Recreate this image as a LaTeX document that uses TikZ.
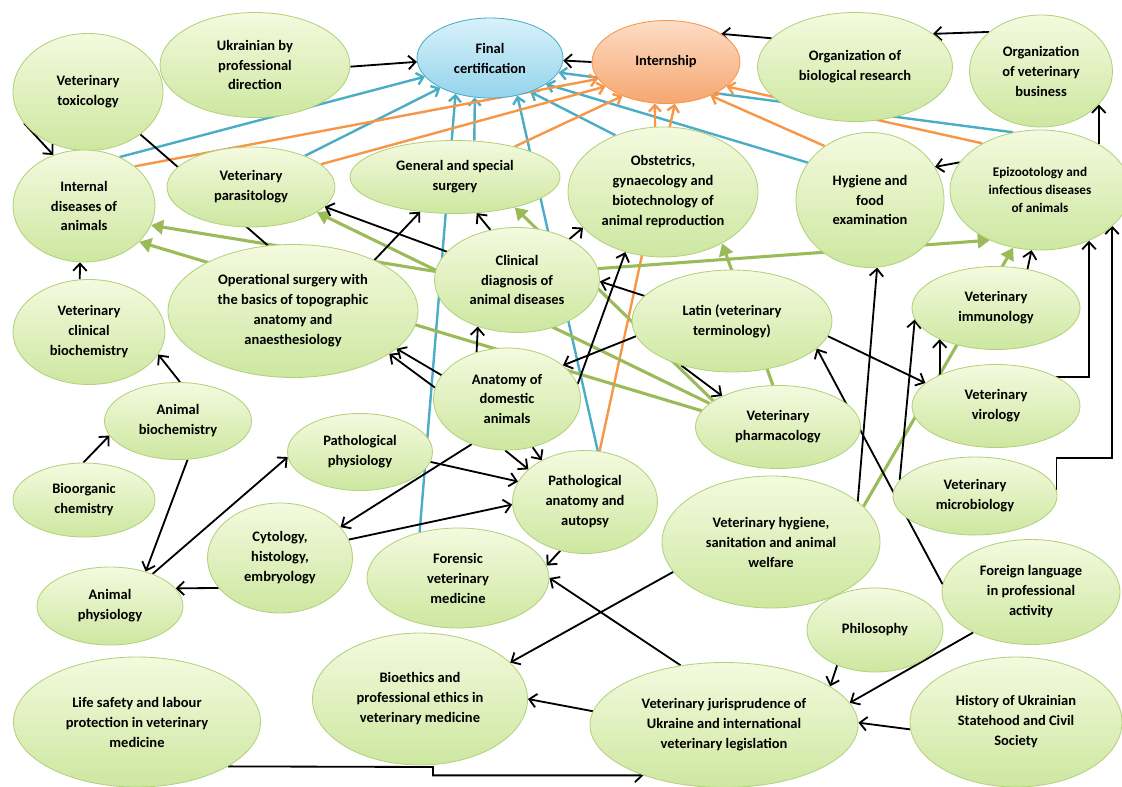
\documentclass[tikz,border=0pt]{standalone}
\usepackage{fontspec}
\setmainfont{Carlito}
\usetikzlibrary{shapes.geometric,arrows.meta,backgrounds}

\definecolor{leafline}{HTML}{9BBB59}
\definecolor{leafedge}{HTML}{B3D17C}
\definecolor{leaftop}{HTML}{F4FADF}
\definecolor{leafbot}{HTML}{CDE7A0}
\definecolor{skyline}{HTML}{4BACC6}
\definecolor{skytop}{HTML}{D9F1FA}
\definecolor{skybot}{HTML}{94D4EC}
\definecolor{peachline}{HTML}{F79646}
\definecolor{peachtop}{HTML}{FDDDC6}
\definecolor{peachbot}{HTML}{F5A670}

\begin{document}
\begin{tikzpicture}[x=0.025cm,y=-0.025cm,
    sz/.style 2 args={minimum width=#1*0.025cm, minimum height=#2*0.025cm},
    course/.style={ellipse, draw=leafedge, line width=0.6pt, top color=leaftop,
      bottom color=leafbot, align=center, inner sep=0pt,
      font=\fontsize{10.3}{14.2}\selectfont\bfseries},
    finalbox/.style={course, draw=skyline, top color=skytop, bottom color=skybot},
    internbox/.style={course, draw=peachline, top color=peachtop, bottom color=peachbot},
    blk/.style={draw=black, line width=1.3pt, -{Straight Barb[length=1.8mm,width=3.4mm]}},
    blkline/.style={draw=black, line width=1.3pt},
    blueln/.style={draw=skyline, line width=1.7pt, -{Straight Barb[length=1.6mm,width=3mm]}},
    orangeln/.style={draw=peachline, line width=1.7pt, -{Straight Barb[length=1.6mm,width=3mm]}},
    greenln/.style={draw=leafline, line width=2.2pt, -{Triangle[length=3mm,width=3.6mm]}}]

  \useasboundingbox (0,0) rectangle (1122,787);

  % top row
  \node[course, sz={150}{117}] (tox) at (88,92) {Veterinary\\toxicology};
  \node[course, sz={190}{105}] (ukr) at (255,65) {Ukrainian by\\professional\\direction};
  \node[finalbox, sz={146}{80}] (final) at (490,58) {Final\\certification};
  \node[internbox, sz={148}{83}] (intern) at (666,62) {Internship};
  \node[course, sz={195}{109}] (orgbio) at (855,67) {Organization of\\biological research};
  \node[course, sz={143}{112}] (orgvet) at (1041,71) {Organization\\of veterinary\\business};

  % second row
  \node[course, sz={142}{112}] (internal) at (84,206) {Internal\\diseases of\\animals};
  \node[course, sz={168}{80}] (parasit) at (251,187) {Veterinary\\parasitology};
  \node[course, sz={210}{73}] (gensurg) at (455,177) {General and special\\surgery};
  \node[course, sz={190}{130}] (obst) at (663,192) {Obstetrics,\\gynaecology and\\biotechnology of\\animal reproduction};
  \node[course, sz={148}{135}] (hygfood) at (870,200) {Hygiene and\\food\\examination};
  \node[course, sz={180}{120}, font=\fontsize{9.4}{12.8}\selectfont\bfseries] (epiz) at (1040,190)
    {Epizootology and\\infectious diseases\\of animals};

  % middle
  \node[course, sz={152}{105}] (clinbio) at (89,332) {Veterinary\\clinical\\biochemistry};
  \node[course, sz={250}{133}] (opsurg) at (293,311) {Operational surgery with\\the basics of topographic\\anatomy and\\anaesthesiology};
  \node[course, sz={165}{105}] (clindiag) at (517,280) {Clinical\\diagnosis of\\animal diseases};
  \node[course, sz={200}{102}] (latin) at (732,321) {Latin (veterinary\\terminology)};
  \node[course, sz={168}{83}] (immun) at (996,308) {Veterinary\\immunology};
  \node[course, sz={147}{102}] (anatomy) at (507,399) {Anatomy of\\domestic\\animals};
  \node[course, sz={165}{83}] (pharm) at (778,427) {Veterinary\\pharmacology};
  \node[course, sz={168}{83}] (virol) at (996,406) {Veterinary\\virology};
  \node[course, sz={147}{77}] (anbio) at (178,421) {Animal\\biochemistry};
  \node[course, sz={145}{77}] (patphys) at (360,452) {Pathological\\physiology};
  \node[course, sz={142}{74}] (bioorg) at (84,500) {Bioorganic\\chemistry};
  \node[course, sz={145}{103}] (patanat) at (585,502) {Pathological\\anatomy and\\autopsy};
  \node[course, sz={218}{132}] (vethyg) at (771,542) {Veterinary hygiene,\\sanitation and animal\\welfare};
  \node[course, sz={164}{78}] (microbio) at (975,496) {Veterinary\\microbiology};
  \node[course, sz={145}{110}] (cytol) at (280,558) {Cytology,\\histology,\\embryology};
  \node[course, sz={182}{100}] (forensic) at (458,578) {Forensic\\veterinary\\medicine};
  \node[course, sz={178}{105}] (foreign) at (1031,592) {Foreign language\\in professional\\activity};
  \node[course, sz={146}{78}] (anphys) at (110,606) {Animal\\physiology};
  \node[course, sz={136}{84}] (philos) at (875,630) {Philosophy};

  % bottom row
  \node[course, sz={215}{132}] (bioeth) at (420,699) {Bioethics and\\professional ethics in\\veterinary medicine};
  \node[course, sz={247}{130}] (lifesafe) at (137,722) {Life safety and labour\\protection in veterinary\\medicine};
  \node[course, sz={268}{125}] (jurispr) at (724,725) {Veterinary jurisprudence of\\Ukraine and international\\veterinary legislation};
  \node[course, sz={212}{130}] (history) at (1016,722) {History of Ukrainian\\Statehood and Civil\\Society};

  \coordinate (lsbend) at (433,767);
  \coordinate (mcbend) at (1112,458);

  \begin{scope}[on background layer]
    % to final certification
    \draw[blueln] (internal.54) -- (final.196);
    \draw[blueln] (parasit.30) -- (final.211);
    \draw[blueln] (forensic.130) -- (final.226);
    \draw[blueln] (gensurg.62) -- (final.249);
    \draw[blueln] (patanat.76) -- (final.-54);
    \draw[blueln] (obst.130) -- (final.-40);
    \draw[blueln] (hygfood.149) -- (final.-25);
    \draw[blueln] (epiz.115) -- (final.-12);

    % to internship
    \draw[orangeln] (internal.38) -- (intern.194);
    \draw[orangeln] (parasit.18) -- (intern.202);
    \draw[orangeln] (gensurg.27) -- (intern.218);
    \draw[orangeln] (obst.97) -- (intern.255);
    \draw[orangeln] (patanat.74) -- (intern.282);
    \draw[orangeln] (hygfood.130) -- (intern.-37);
    \draw[orangeln] (epiz.141) -- (intern.-22);

    % green links
    \draw[greenln] (clindiag.174) -- (internal.-16);
    \draw[greenln] (pharm.168) -- (internal.-33);
    \draw[greenln] (pharm.161) -- (parasit.-21.5);
    \draw[greenln] (pharm.158) -- (gensurg.-27.6);
    \draw[greenln] (pharm.97) -- (obst.-41.3);
    \draw[greenln] (clindiag.8) -- (epiz.225);
    \draw[greenln] (vethyg.21) -- (epiz.245.6);

    % black links
    \draw[blk] (ukr.-1) -- (final.183);
    \draw[blk] (intern.180) -- (final.-2);
    \draw[blk] (orgbio.161) -- (intern.27);
    \draw[blk] (orgvet.143) -- (orgbio.23);
    \draw[blk] (epiz.38.4) -- (epiz.38.4 |- orgvet.-30.7);
    \draw[blk] (epiz.161) -- (hygfood.27);
    \draw[blk] (tox.206) -- (internal.121);
    \draw[blkline] (tox.-39.5) -- (opsurg.111.5);
    \draw[blk] (clinbio.100) -- (internal.266);
    \draw[blk] (anbio.87) -- (clinbio.-18);
    \draw[blk] (bioorg.91.5) -- (anbio.192);
    \draw[blk] (anbio.-76) -- (anphys.44);
    \draw[blk] (cytol.206) -- (anphys.15);
    \draw[blk] (anphys.37.5) -- (patphys.184);
    \draw[blk] (anatomy.232) -- (cytol.27);
    \draw[blk] (cytol.15.5) -- (patanat.182.5);
    \draw[blk] (patphys.-8) -- (patanat.163);
    \draw[blk] (anatomy.268) -- (patanat.150);
    \draw[blk] (anatomy.-62) -- (patanat.136);
    \draw[blk] (anatomy.123) -- (clindiag.230);
    \draw[blk] (anatomy.160) -- (opsurg.-20);
    \draw[blk] (anatomy.171) -- (opsurg.-24);
    \draw[blk] (opsurg.32) -- (gensurg.225);
    \draw[blk] (clindiag.158) -- (parasit.-15.5);
    \draw[blk] (clindiag.118) -- (gensurg.-59);
    \draw[blk] (clindiag.38) -- (obst.204);
    \draw[blk] (latin.164) -- (clindiag.-1.3);
    \draw[blk] (latin.189) -- (anatomy.31);
    \draw[blk] (anatomy.12) -- (obst.238);
    \draw[blk] (latin.221.5) -- (pharm.151);
    \draw[blk] (latin.-9) -- (virol.162);
    \draw[blk] (vethyg.25) -- (hygfood.-84);
    \draw[blk] (microbio.168) -- (immun.188);
    \draw[blk] (virol.151) -- (immun.209);
    \draw[blk] (immun.51) -- (epiz.262);
    \draw[blk] (virol.26) -| (epiz.-46.6);
    \draw[blk] (microbio.4) |- (mcbend) -- (mcbend |- epiz.-26.6);
    \draw[blk] (foreign.175.5) -- (latin.-18.6);
    \draw[blk] (foreign.215) -- (jurispr.10);
    \draw[blk] (philos.223) -- (jurispr.20.7);
    \draw[blk] (history.184) -- (jurispr.1);
    \draw[blk] (jurispr.174) -- (bioeth.0.5);
    \draw[blk] (jurispr.126) -- (forensic.0);
    \draw[blk] (vethyg.197) -- (bioeth.22.5);
    \draw[blk] (patanat.243) -- (forensic.8.5);
    \draw[blk] (lifesafe.-26) -- (lsbend) |- (jurispr.212);
  \end{scope}

\end{tikzpicture}
\end{document}
